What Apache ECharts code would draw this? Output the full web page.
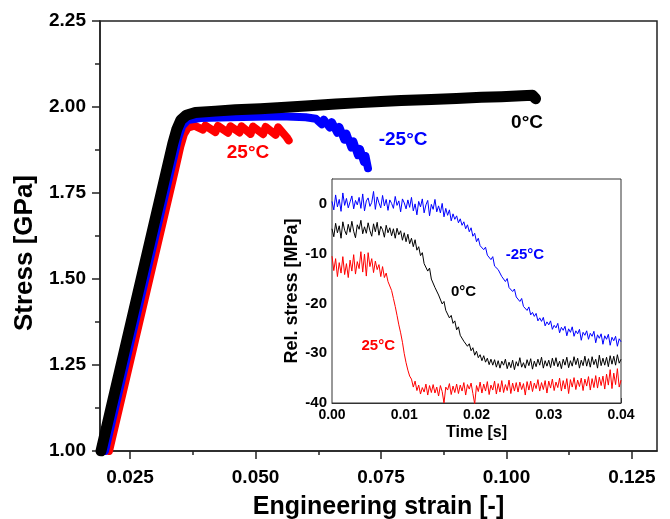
<!DOCTYPE html>
<html>
<head>
<meta charset="UTF-8">
<title>Stress vs strain</title>
<script src="https://cdn.jsdelivr.net/npm/echarts@6/dist/echarts.min.js"></script>
<style>
body {
    margin: 0;
    padding: 0;
    background: #fff;
}
#main {
    width: 670px;
    height: 519px;
}
</style>
</head>
<body>
<div id="main"></div>
<script>
// main plot: engineering strain [-] vs stress [GPa]
var strainBlack = [0.0192, 0.0335, 0.0343, 0.0351, 0.0362, 0.0380, 0.0420, 0.0460, 0.0510, 0.0560, 0.0600, 0.0660, 0.0700, 0.0750, 0.0790, 0.0850, 0.0900, 0.0950, 0.0990, 0.1030, 0.1052, 0.1058];
var stressBlack = [1.000, 1.893, 1.935, 1.962, 1.976, 1.984, 1.988, 1.992, 1.995, 1.999, 2.003, 2.009, 2.012, 2.016, 2.019, 2.022, 2.025, 2.028, 2.030, 2.033, 2.034, 2.024];

var strainBlue = [0.0200, 0.0338, 0.0346, 0.0354, 0.0365, 0.0390, 0.0450, 0.0500, 0.0550, 0.0600, 0.0620, 0.0632, 0.0636, 0.0648, 0.0652, 0.0663, 0.0667, 0.0677, 0.0681, 0.0691, 0.0695, 0.0704, 0.0708, 0.0716, 0.0719, 0.0724];
var stressBlue = [1.000, 1.860, 1.910, 1.945, 1.962, 1.968, 1.970, 1.972, 1.973, 1.970, 1.966, 1.950, 1.963, 1.940, 1.956, 1.925, 1.942, 1.905, 1.923, 1.882, 1.900, 1.860, 1.878, 1.840, 1.858, 1.822];

var strainRed = [0.0208, 0.0340, 0.0350, 0.0357, 0.0365, 0.0378, 0.0395, 0.0400, 0.0420, 0.0425, 0.0445, 0.0450, 0.0468, 0.0472, 0.0490, 0.0495, 0.0515, 0.0520, 0.0540, 0.0545, 0.0562, 0.0566];
var stressRed = [1.000, 1.820, 1.885, 1.920, 1.940, 1.946, 1.934, 1.946, 1.927, 1.945, 1.925, 1.944, 1.926, 1.944, 1.922, 1.943, 1.921, 1.942, 1.919, 1.941, 1.912, 1.903];

var strainMajor = [0.025, 0.050, 0.075, 0.100, 0.125];
var strainMinor = [0.0375, 0.0625, 0.0875, 0.1125];

// inset: relative stress [MPa], one sample every 0.25 ms from 0 to 0.04 s
var timeStep = 0.00025;
var relBlue = [
    0.5, -1.2, 1.8, -0.6,   0.9, -1.5, 2.2, -0.3,   1.1, -0.8, 0.4, 1.6,   -1.0, 0.7, -0.2, 1.3,
    -0.9, 2.0, -1.4, 0.6,   1.2, -0.5, 0.3, 2.5,   -1.1, 1.4, 0.2, -0.8,   1.7, -0.4, 0.9, -1.3,
    0.8, 0.1, -0.9, 1.5,   -0.3, 0.6, -1.6, 1.0,   0.2, -1.0, 0.8, -0.7,   1.3, -1.4, 0.0, -2.2,
    0.5, -0.6, 1.0, -1.8,   -0.2, 0.7, -2.4, -0.1,   -1.1, 0.9, -1.6, -0.4,   -1.8, 0.1, -2.6, -0.9,
    -2.3, -1.2, -3.4, -2.0,   -3.1, -2.4, -3.8, -3.0,   -4.3, -3.6, -5.0, -4.2,   -5.6, -4.8, -6.5, -5.9,
    -7.6, -6.9, -8.4, -8.0,   -9.2, -8.7, -10.3, -10.0,   -11.2, -10.6, -12.5, -12.1,   -13.2, -12.8, -14.6, -14.2,
    -15.6, -15.0, -16.8, -16.4,   -17.6, -17.1, -18.7, -18.4,   -19.6, -19.0, -20.6, -20.2,   -21.4, -20.7, -22.3, -21.8,
    -22.6, -22.0, -23.5, -22.9,   -23.6, -22.8, -24.5, -23.7,   -24.3, -23.5, -25.2, -24.4,   -24.9, -24.0, -25.9, -24.8,
    -25.4, -24.6, -26.5, -25.1,   -25.8, -24.7, -26.6, -25.5,   -26.1, -25.2, -27.4, -25.8,   -26.4, -25.5, -27.2, -26.0,
    -26.6, -25.6, -27.9, -26.3,   -27.0, -26.1, -28.2, -26.5,   -27.2, -26.2, -28.4, -26.8,   -27.5, -26.6, -28.6, -27.1,
    -27.7
];
var relBlack = [
    -5.0, -6.6, -3.9, -5.8,   -4.4, -6.9, -3.6, -5.3,   -6.2, -4.1, -5.7, -3.5,   -5.5, -6.8, -4.2, -5.1,
    -3.3, -6.0, -4.6, -5.9,   -3.8, -5.4, -6.5, -4.0,   -5.6, -3.7, -6.3, -4.5,   -5.2, -6.7, -4.3, -5.8,
    -4.8, -6.4, -5.0, -6.9,   -4.9, -6.2, -5.4, -7.3,   -5.8, -7.6, -6.1, -8.0,   -6.9, -8.6, -7.2, -9.3,
    -8.6, -10.4, -9.8, -12.0,   -11.6, -13.5, -12.9, -15.1,   -15.0, -16.8, -16.4, -18.3,   -18.2, -20.1, -19.6, -21.4,
    -21.2, -22.9, -22.4, -24.0,   -23.5, -25.3, -24.7, -26.4,   -26.0, -27.6, -27.2, -28.6,   -28.1, -29.5, -28.9, -30.4,
    -29.6, -30.9, -30.3, -31.5,   -30.5, -31.8, -31.0, -32.3,   -31.2, -32.4, -31.3, -32.8,   -31.5, -33.0, -31.6, -32.4,
    -31.2, -33.1, -31.8, -32.9,   -31.4, -33.3, -31.7, -32.6,   -30.9, -32.8, -31.9, -33.0,   -31.3, -32.5, -31.1, -33.2,
    -31.6, -32.7, -31.2, -32.4,   -30.8, -33.0, -31.5, -32.6,   -31.4, -32.9, -31.0, -32.5,   -30.9, -32.7, -31.6, -33.1,
    -31.2, -32.4, -30.8, -32.9,   -31.5, -32.6, -30.7, -32.3,   -31.0, -33.0, -31.4, -32.5,   -30.6, -32.6, -31.1, -32.8,
    -30.7, -32.3, -31.2, -33.0,   -30.4, -32.5, -31.0, -32.4,   -30.8, -32.7, -30.5, -32.2,   -30.6, -32.4, -30.3, -32.0,
    -31.2
];
var relRed = [
    -10.5, -13.4, -11.0, -14.6,   -11.8, -13.9, -10.6, -14.2,   -12.0, -14.8, -11.3, -13.5,   -10.2, -14.1, -11.6, -13.0,
    -9.6, -13.7, -10.1, -14.5,   -9.8, -12.6, -11.0, -13.8,   -11.5, -13.2, -12.2, -14.6,   -12.6, -14.8, -13.9, -15.6,
    -16.0, -17.4, -19.0, -20.6,   -22.4, -24.3, -25.9, -27.8,   -30.1, -31.9, -33.4, -34.6,   -35.2, -36.8, -35.6, -37.5,
    -36.4, -38.2, -36.9, -37.8,   -36.2, -38.4, -36.5, -37.9,   -36.3, -38.0, -36.8, -38.6,   -36.5, -37.7, -40.0, -36.8,
    -37.4, -36.1, -38.3, -36.6,   -37.9, -36.2, -38.1, -36.4,   -37.6, -35.9, -38.4, -36.3,   -37.2, -36.0, -38.1, -40.2,
    -36.5, -37.7, -35.8, -38.0,   -36.2, -37.6, -35.7, -38.3,   -36.4, -37.4, -35.6, -38.2,   -36.1, -37.8, -35.5, -37.9,
    -36.3, -37.5, -35.4, -38.1,   -36.0, -37.6, -35.9, -37.8,   -35.8, -37.3, -36.1, -38.4,   -35.7, -37.4, -35.6, -37.7,
    -36.0, -37.1, -35.3, -37.6,   -35.9, -37.3, -35.5, -38.0,   -35.6, -37.0, -35.2, -37.5,   -35.8, -36.9, -35.0, -37.6,
    -35.5, -37.2, -35.1, -38.1,   -35.3, -36.8, -34.9, -37.3,   -35.4, -36.7, -35.0, -37.5,   -35.2, -36.6, -34.7, -37.4,
    -35.1, -36.9, -34.5, -37.0,   -34.8, -36.5, -34.6, -37.2,   -34.2, -36.4, -33.3, -37.1,   -34.0, -36.3, -33.1, -36.8,
    -35.4
];

// text labels: [text, colour, x, y, which plot]
var curveLabels = [
    ['25°C', '#ff0000', 0.0485, 1.8675, 'main'],
    ['-25°C', '#0000ff', 0.0794, 1.9060, 'main'],
    ['0°C', '#000000', 0.1041, 1.9548, 'main'],
    ['-25°C', '#0000ff', 0.0267, -10.3, 'inset'],
    ['0°C', '#000000', 0.0182, -17.7, 'inset'],
    ['25°C', '#ff0000', 0.0064, -28.5, 'inset']
];

var FONT = '"Liberation Sans", Arial, sans-serif';

function pairs(xs, ys) {
    return xs.map(function (x, i) { return [x, ys[i]]; });
}
function timed(vals) {
    return vals.map(function (v, i) { return [i * timeStep, v]; });
}

var chart = echarts.init(document.getElementById('main'));

var option = {
    animation: false,
    backgroundColor: '#fff',
    grid: [
        {
            left: 100, right: 13, top: 21, bottom: 68, outerBoundsMode: 'none',
            show: true, borderColor: '#222', borderWidth: 1.5, backgroundColor: 'transparent'
        },
        {
            left: 332, right: 49, top: 179, bottom: 116, outerBoundsMode: 'none',
            show: true, borderColor: '#333', borderWidth: 1, backgroundColor: '#fff', z: 3
        }
    ],
    xAxis: [
        {
            gridIndex: 0, type: 'value', position: 'bottom', min: 0.019, max: 0.130,
            name: 'Engineering strain [-]', nameLocation: 'middle', nameGap: 44,
            nameTextStyle: { fontFamily: FONT, fontWeight: 'bold', fontSize: 25, color: '#000' },
            axisLine: { onZero: false, lineStyle: { color: '#222', width: 1.5 } },
            axisTick: { customValues: strainMajor, length: 8, lineStyle: { color: '#222', width: 1.5 } },
            axisLabel: {
                customValues: strainMajor, margin: 17,
                fontFamily: FONT, fontWeight: 'bold', fontSize: 19, color: '#000',
                formatter: function (v) { return v.toFixed(3); }
            },
            splitLine: { show: false }
        },
        {
            gridIndex: 0, type: 'value', position: 'bottom', min: 0.019, max: 0.130,
            axisLine: { show: false, onZero: false },
            axisTick: { customValues: strainMinor, length: 4, lineStyle: { color: '#222', width: 1.5 } },
            axisLabel: { show: false },
            splitLine: { show: false }
        },
        {
            gridIndex: 1, type: 'value', position: 'bottom', min: 0, max: 0.04, interval: 0.01,
            name: 'Time [s]', nameLocation: 'middle', nameGap: 22,
            nameTextStyle: { fontFamily: FONT, fontWeight: 'bold', fontSize: 16, color: '#000' },
            axisLine: { onZero: false, lineStyle: { color: '#333', width: 1 } },
            axisTick: { inside: true, length: 5, lineStyle: { color: '#333' } },
            minorTick: { show: true, splitNumber: 2, length: 3, lineStyle: { color: '#333' } },
            axisLabel: {
                margin: 5, fontFamily: FONT, fontWeight: 'bold', fontSize: 14, color: '#000',
                formatter: function (v) { return v.toFixed(2); }
            },
            splitLine: { show: false }
        }
    ],
    yAxis: [
        {
            gridIndex: 0, type: 'value', min: 1.0, max: 2.25, interval: 0.25,
            name: 'Stress [GPa]', nameLocation: 'middle', nameGap: 56,
            nameTextStyle: { fontFamily: FONT, fontWeight: 'bold', fontSize: 26, color: '#000', padding: [0, 34, 0, 0] },
            axisLine: { onZero: false, lineStyle: { color: '#222', width: 1.5 } },
            axisTick: { length: 8, lineStyle: { color: '#222', width: 1.5 } },
            minorTick: { show: true, splitNumber: 2, length: 5, lineStyle: { color: '#222', width: 1.5 } },
            axisLabel: {
                margin: 14, fontFamily: FONT, fontWeight: 'bold', fontSize: 19, color: '#000',
                formatter: function (v) { return v.toFixed(2); }
            },
            splitLine: { show: false }
        },
        {
            gridIndex: 1, type: 'value', position: 'left', min: -40, max: 5, interval: 10,
            name: 'Rel. stress [MPa]', nameLocation: 'middle', nameGap: 30,
            nameTextStyle: { fontFamily: FONT, fontWeight: 'bold', fontSize: 18, color: '#000' },
            axisLine: { onZero: false, lineStyle: { color: '#333', width: 1 } },
            axisTick: { inside: true, length: 5, lineStyle: { color: '#333' } },
            minorTick: { show: true, splitNumber: 2, length: 3, lineStyle: { color: '#333' } },
            axisLabel: {
                margin: 5, showMaxLabel: false,
                fontFamily: FONT, fontWeight: 'bold', fontSize: 15, color: '#000'
            },
            splitLine: { show: false }
        }
    ],
    series: [
        {
            name: '25°C', type: 'line', xAxisIndex: 0, yAxisIndex: 0,
            data: pairs(strainRed, stressRed), showSymbol: false,
            lineStyle: { color: '#ff0000', width: 8, cap: 'round', join: 'round' }
        },
        {
            name: '-25°C', type: 'line', xAxisIndex: 0, yAxisIndex: 0,
            data: pairs(strainBlue, stressBlue), showSymbol: false,
            lineStyle: { color: '#0000ff', width: 8, cap: 'round', join: 'round' }
        },
        {
            name: '0°C', type: 'line', xAxisIndex: 0, yAxisIndex: 0,
            data: pairs(strainBlack, stressBlack), showSymbol: false,
            lineStyle: { color: '#000000', width: 11, cap: 'round', join: 'round' }
        },
        {
            name: 'inset 25°C', type: 'line', xAxisIndex: 2, yAxisIndex: 1, z: 4,
            data: timed(relRed), showSymbol: false,
            lineStyle: { color: '#ff0000', width: 1 }
        },
        {
            name: 'inset 0°C', type: 'line', xAxisIndex: 2, yAxisIndex: 1, z: 4,
            data: timed(relBlack), showSymbol: false,
            lineStyle: { color: '#000000', width: 1 }
        },
        {
            name: 'inset -25°C', type: 'line', xAxisIndex: 2, yAxisIndex: 1, z: 4,
            data: timed(relBlue), showSymbol: false,
            lineStyle: { color: '#0000ff', width: 1 }
        }
    ]
};
chart.setOption(option);

// place the temperature labels at their data positions
var graphics = curveLabels.map(function (l) {
    var finder = l[4] === 'main' ? { xAxisIndex: 0, yAxisIndex: 0 } : { xAxisIndex: 2, yAxisIndex: 1 };
    var p = chart.convertToPixel(finder, [l[2], l[3]]);
    return {
        type: 'text', x: p[0], y: p[1], z: 10,
        style: {
            text: l[0], fill: l[1], align: 'center', verticalAlign: 'middle',
            font: 'bold ' + (l[4] === 'main' ? 19 : 15) + 'px ' + FONT
        }
    };
});
chart.setOption({ graphic: graphics });
</script>
</body>
</html>
